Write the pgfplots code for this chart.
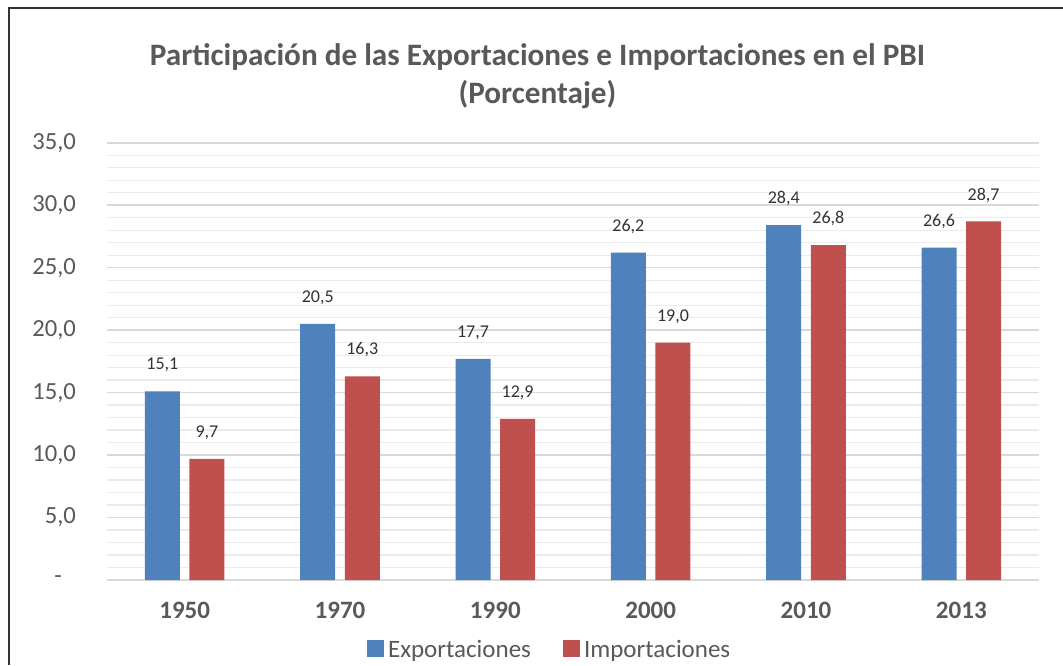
\documentclass[border=0pt]{standalone}
\usepackage{pgfplots}
\pgfplotsset{compat=1.18}
\usepackage{fontspec}
\setmainfont{Carlito}
\definecolor{cblue}{HTML}{4F81BD}
\definecolor{cred}{HTML}{C0504D}
\definecolor{ctext}{HTML}{595959}
\definecolor{cgrid}{HTML}{D9D9D9}
\definecolor{cminor}{HTML}{EBEBEB}
\begin{document}
\begin{tikzpicture}[x=0.5pt,y=0.5pt]
\useasboundingbox (0,0) rectangle (1063,665);
\fill[white] (0,0) rectangle (1063,665);
\draw[line width=1.2pt,black!80] (9,0) -- (9,657) -- (1063,657);
\node[text=ctext,font=\fontsize{15.6}{18}\selectfont\bfseries] at (537.5,608) {Participación de las Exportaciones e Importaciones en el PBI};
\node[text=ctext,font=\fontsize{15.6}{18}\selectfont\bfseries] at (537.5,570) {(Porcentaje)};
\begin{axis}[
  at={(53.5pt,42.5pt)}, anchor=south west,
  scale only axis, width=466pt, height=218.65pt,
  xmin=-0.5, xmax=5.5, ymin=0, ymax=35,
  xtick={0,1,2,3,4,5},
  xticklabels={1950,1970,1990,2000,2010,2013},
  xticklabel style={font=\fontsize{12.5}{14}\selectfont\bfseries, text=ctext, yshift=-3pt},
  ytick={0,5,...,35},
  yticklabels={{-\rule{7pt}{0pt}},{5,0},{10,0},{15,0},{20,0},{25,0},{30,0},{35,0}},
  yticklabel style={font=\fontsize{12.3}{14}\selectfont, text=ctext, xshift=-12pt},
  minor y tick num=4,
  ymajorgrids, yminorgrids,
  major grid style={cgrid, line width=0.8pt},
  minor grid style={cminor, line width=0.6pt},
  axis line style={draw=none},
  tick style={draw=none},
  ybar, bar width=17.5pt,
  nodes near coords={\pgfmathprintnumber[use comma,fixed,fixed zerofill,precision=1]{\pgfplotspointmeta}},
  every node near coord/.append style={font=\fontsize{9}{10}\selectfont, text=black!80, yshift=6pt},
  /pgf/number format/assume math mode=true,
  legend style={at={(0.476,-0.16)}, anchor=center, draw=none, legend columns=2,
    font=\fontsize{12.5}{14}\selectfont, text=ctext,
    /tikz/every even column/.append style={column sep=14pt}},
  legend image code/.code={\fill[#1] (0cm,-0.12cm) rectangle (0.3cm,0.18cm);},
]
\addplot[fill=cblue, draw=none, bar shift=-11.15pt] coordinates {(0,15.1) (1,20.5) (2,17.7) (3,26.2) (4,28.4) (5,26.6)};
\addplot[fill=cred, draw=none, bar shift=11.15pt] coordinates {(0,9.7) (1,16.3) (2,12.9) (3,19.0) (4,26.8) (5,28.7)};
\legend{Exportaciones, Importaciones}
\end{axis}
\end{tikzpicture}
\end{document}
